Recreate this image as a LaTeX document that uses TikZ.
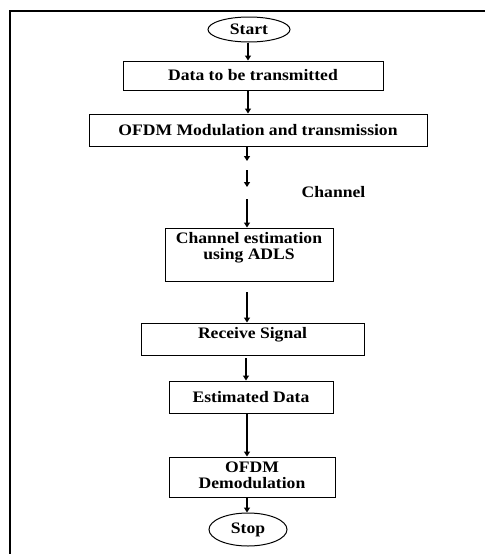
\documentclass[tikz,border=0pt]{standalone}
\usepackage{fontspec}
\setmainfont{Liberation Serif}[FakeStretch=1.1]
\usetikzlibrary{arrows.meta,shapes.geometric}
\begin{document}
\begin{tikzpicture}[x=1pt,y=-1pt,
  every node/.style={font=\fontsize{16}{16.5}\selectfont\bfseries},
  stepbox/.style={draw, line width=1pt, inner sep=0pt},
  term/.style={draw, ellipse, line width=1pt, inner sep=0pt},
  txt/.style={inner sep=0pt, align=center},
  arr/.style={line width=1.3pt, -{Triangle[width=6pt,length=5pt]}},
  frame/.style={line width=2.5pt}]
\useasboundingbox (0,0) rectangle (485,554);
\draw[frame] (10,554) -- (10,11) -- (485,11);
% terminals
\node[term, minimum width=82pt, minimum height=25pt] (start) at (249,29.5) {Start};
\node[term, minimum width=78pt, minimum height=33pt] (stop) at (248,529.5) {Stop};
% boxes
\node[stepbox, minimum width=260pt, minimum height=29pt] (data) at (253,75.5) {Data to be transmitted};
\node[stepbox, minimum width=338pt, minimum height=32pt] (mod) at (258,130) {OFDM Modulation and transmission};
\node[stepbox, minimum width=168pt, minimum height=53pt] (est) at (249,254.5) {};
\node[txt] (estt) at (249,247.5) {Channel estimation\\using ADLS};
\node[stepbox, minimum width=223pt, minimum height=32pt] (rec) at (252.5,339) {};
\node[txt] (rect) at (252.5,335) {Receive Signal};
\node[stepbox, minimum width=164pt, minimum height=32pt] (edata) at (251,397) {Estimated Data};
\node[stepbox, minimum width=166pt, minimum height=40pt] (demod) at (252,477) {};
\node[txt] (demodt) at (252,475.5) {OFDM\\Demodulation};
\node[txt] (chan) at (333.5,192) {Channel};
% x positions and free ends of the arrows
\coordinate (x8) at (248,0);
\coordinate (x7) at (247,0);
\coordinate (x6) at (246,0);
\coordinate (a1e) at (247,161);
\coordinate (a2s) at (247,170);
\coordinate (a2e) at (247,187);
\coordinate (a3s) at (247,199);
\coordinate (a4s) at (247,292);
\coordinate (a5s) at (246,358);
% connectors
\draw[arr] (start.south -| x8) -- (data.north -| x8);
\draw[arr] (data.south -| x8) -- (mod.north -| x8);
\draw[arr] (mod.south -| x7) -- (a1e);
\draw[arr] (a2s) -- (a2e);
\draw[arr] (a3s) -- (est.north -| x7);
\draw[arr] (a4s) -- (rec.north -| x7);
\draw[arr] (a5s) -- (edata.north -| x6);
\draw[arr] (edata.south -| x7) -- (demod.north -| x7);
\draw[arr] (demod.south -| x7) -- (stop.north -| x7);
\end{tikzpicture}
\end{document}
